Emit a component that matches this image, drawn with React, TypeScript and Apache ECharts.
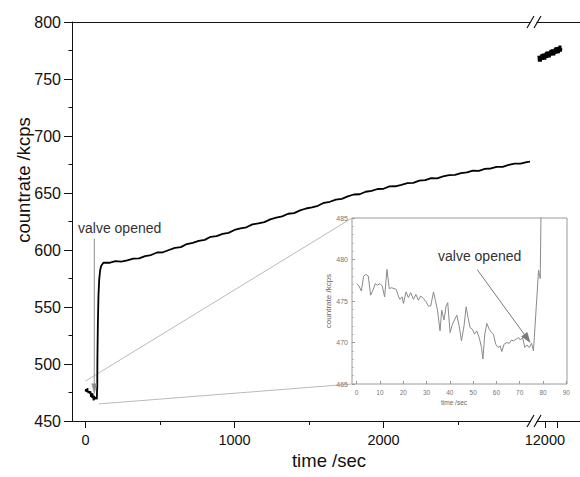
import React, { useEffect, useRef } from "react";
import * as echarts from "echarts";

// ---- data ----
// first seconds (also shown in the inset)
const earlyTime = [0, 1, 2, 3, 4, 5, 6, 7, 8, 9, 10, 11, 12, 13, 14, 15, 16, 17, 18, 18.6, 19.5, 20.1, 21.2, 22.2, 23.2, 24.4, 25.4, 26.5, 27.5, 28.7, 29.8, 30.8, 31.8, 33, 33.7, 34.7, 35.8, 36.5, 37.5, 38.4, 39.1, 40.1, 41.1, 42, 43, 44, 45, 46.1, 47, 47.9, 48.7, 49.7, 50.6, 51.6, 52.6, 53.6, 54.2, 55, 55.9, 56.9, 57.9, 58.7, 59.7, 60.7, 61.6, 62.3, 63.3, 64.5, 65.5, 66.5, 67.3, 68.5, 69.5, 70.2, 71.2, 72.2, 73.1, 74.1, 75.1, 75.9, 77.1, 78.1, 78.8];
const earlyRate = [477.1, 476.8, 476.2, 478.0, 478.2, 478.0, 475.7, 476.3, 477.1, 476.9, 477.1, 476.8, 475.5, 478.8, 476.5, 476.6, 476.5, 476.4, 475.5, 475.2, 475.5, 474.7, 476.1, 475.4, 476.0, 475.2, 475.8, 475.1, 475.6, 475.3, 474.9, 474.4, 474.4, 476.1, 475.2, 473.9, 471.4, 473.9, 472.7, 474.4, 474.8, 471.2, 472.2, 472.7, 473.3, 472.0, 470.2, 472.0, 474.3, 472.9, 471.8, 471.6, 471.0, 471.4, 470.6, 469.4, 468.0, 471.0, 472.3, 471.6, 471.2, 471.0, 469.8, 469.4, 469.6, 468.9, 469.8, 470.0, 469.9, 470.3, 470.2, 470.4, 470.6, 470.3, 470.6, 469.4, 469.7, 469.4, 469.9, 469.0, 474.3, 478.7, 477.7];

// valve opened: steep rise
const riseTime = [80, 83, 87, 92, 98, 105];
const riseRate = [505, 535, 560, 574, 582, 586];

// slow increase afterwards
const plateauTime = [120, 160, 200, 240, 280, 320, 360, 400, 440, 480, 520, 560, 600, 640, 680, 720, 760, 800, 840, 880, 920, 960, 1000, 1040, 1080, 1120, 1160, 1200, 1240, 1280, 1320, 1360, 1400, 1440, 1480, 1520, 1560, 1600, 1640, 1680, 1720, 1760, 1800, 1840, 1880, 1920, 1960, 2000, 2040, 2080, 2120, 2160, 2200, 2240, 2280, 2320, 2360, 2400, 2440, 2480, 2520, 2560, 2600, 2640, 2680, 2720, 2760, 2800, 2840, 2880, 2920, 2960, 2983];
const plateauRate = [588.9, 588.8, 590.3, 589.8, 591.0, 592.4, 592.6, 594.7, 595.6, 597.8, 598.0, 600.0, 601.9, 602.5, 605.2, 606.2, 608.0, 608.9, 611.6, 612.2, 614.2, 615.0, 617.6, 619.0, 619.9, 622.5, 623.3, 624.5, 626.9, 628.3, 629.5, 631.8, 632.3, 634.7, 636.4, 637.4, 638.8, 641.4, 642.3, 644.2, 644.8, 647.0, 648.7, 648.9, 651.1, 651.9, 653.5, 653.7, 655.8, 655.9, 657.2, 658.6, 658.9, 660.8, 661.3, 663.0, 662.9, 664.5, 665.6, 665.9, 667.4, 668.0, 669.6, 669.4, 671.1, 671.5, 673.0, 672.9, 674.6, 675.7, 675.8, 677.1, 677.5];

// after the axis break (~12000 s)
const lateTime = [11760, 11780, 11800, 11820, 11840, 11860, 11880, 11900, 11920, 11940, 11960, 11980, 12000, 12020, 12040, 12060, 12080, 12100, 12120, 12140, 12160, 12180, 12200, 12220, 12240, 12260, 12280, 12300, 12320, 12340, 12360, 12380, 12400, 12420, 12440, 12460, 12480, 12500, 12520, 12540, 12560, 12580, 12600, 12620, 12640];
const lateRate = [770.4, 765.3, 769.2, 765.2, 770.6, 767.6, 771.8, 766.8, 769.7, 772.2, 767.1, 771.1, 767.1, 772.5, 769.5, 773.7, 768.7, 771.6, 774.1, 769.0, 772.9, 768.9, 774.3, 771.3, 775.5, 770.5, 773.4, 775.9, 770.8, 774.7, 770.7, 776.2, 773.2, 777.4, 772.4, 775.3, 777.8, 772.7, 776.6, 772.6, 778.0, 775.0, 779.2, 774.2, 777.1];

// ticks / labels
const mainXLabels = [0, 1000, 2000];
const mainXMinor = [500, 1500, 2500];
const lateXLabels = [12000];
const lateXTicks = [12000, 12500];
const insetXLabels = [0, 10, 20, 30, 40, 50, 60, 70, 80, 90];

// annotations (data coordinates)
const mainArrow = [[59, 610], [59, 474]];
const insetArrow = [[51.7, 478.8], [74.5, 470.0]];

const FONT = "'Liberation Sans', Arial, Helvetica, sans-serif";
const AX = "#111";
const plain = (v: number) => String(v);

export default function App() {
  const ref = useRef<HTMLDivElement>(null);

  useEffect(() => {
    const chart = echarts.init(ref.current!, null, { renderer: "svg" });
    const zip = (a: number[], b: number[]) => a.map((t, i) => [t, b[i]]);
    const leftData = [...zip(earlyTime, earlyRate), ...zip(riseTime, riseRate), ...zip(plateauTime, plateauRate)];
    const insetData = [...zip(earlyTime, earlyRate), ...zip(riseTime.slice(0, 2), riseRate.slice(0, 2))];
    const lateData = zip(lateTime, lateRate);

    const mainMin = -90.6;
    const mainMax = 2983;
    const lateMin = 11685;
    const lateMax = 13402;

    const option: any = {
      animation: false,
      grid: [
        { left: 72, top: 22, width: 458, height: 399 },
        { left: 537, top: 22, width: 80, height: 399 },
        { left: 352, top: 218, width: 215, height: 166, show: true, borderColor: "#9a9a9a", borderWidth: 1, backgroundColor: "#fff" },
      ],
      xAxis: [
        {
          gridIndex: 0, type: "value", position: "bottom", min: mainMin, max: mainMax,
          axisLine: { show: true, onZero: false, lineStyle: { color: AX, width: 1 } },
          axisTick: { show: true, length: 7, customValues: mainXLabels, lineStyle: { color: AX } },
          axisLabel: { customValues: mainXLabels, formatter: plain, fontSize: 14.5, color: "#111", fontFamily: FONT, margin: 11 },
          splitLine: { show: false },
        },
        {
          gridIndex: 0, type: "value", position: "bottom", min: mainMin, max: mainMax,
          axisLine: { show: false },
          axisTick: { show: true, length: 4, customValues: mainXMinor, lineStyle: { color: AX } },
          axisLabel: { show: false },
          splitLine: { show: false },
        },
        {
          gridIndex: 0, type: "value", position: "top", min: mainMin, max: mainMax,
          axisLine: { show: true, onZero: false, lineStyle: { color: AX, width: 1 } },
          axisTick: { show: false }, axisLabel: { show: false }, splitLine: { show: false },
        },
        {
          gridIndex: 1, type: "value", position: "bottom", min: lateMin, max: lateMax,
          axisLine: { show: true, onZero: false, lineStyle: { color: AX, width: 1 } },
          axisTick: { show: true, length: 7, customValues: lateXTicks, lineStyle: { color: AX } },
          axisLabel: { customValues: lateXLabels, formatter: plain, fontSize: 14.5, color: "#111", fontFamily: FONT, margin: 11 },
          splitLine: { show: false },
        },
        {
          gridIndex: 1, type: "value", position: "top", min: lateMin, max: lateMax,
          axisLine: { show: true, onZero: false, lineStyle: { color: AX, width: 1 } },
          axisTick: { show: false }, axisLabel: { show: false }, splitLine: { show: false },
        },
        {
          gridIndex: 2, type: "value", position: "bottom", min: -2, max: 90.3,
          axisLine: { show: false, onZero: false },
          axisTick: { show: true, inside: true, length: 3, customValues: insetXLabels, lineStyle: { color: "#999" } },
          axisLabel: { customValues: insetXLabels, formatter: plain, fontSize: 6.5, color: "#777", fontFamily: FONT, margin: 5 },
          splitLine: { show: false },
        },
      ],
      yAxis: [
        {
          gridIndex: 0, type: "value", min: 450, max: 800, interval: 50,
          axisLine: { show: true, onZero: false, lineStyle: { color: AX, width: 1 } },
          axisTick: { show: true, length: 8, lineStyle: { color: AX } },
          minorTick: { show: true, splitNumber: 2, length: 3.5, lineStyle: { color: AX } },
          axisLabel: { fontSize: 16, color: "#111", fontFamily: FONT, margin: 11 },
          splitLine: { show: false }, minorSplitLine: { show: false },
        },
        { gridIndex: 1, type: "value", min: 450, max: 800, show: false, splitLine: { show: false } },
        {
          gridIndex: 2, type: "value", min: 465, max: 485, interval: 5,
          axisLine: { show: false, onZero: false },
          axisTick: { show: true, inside: true, length: 3, lineStyle: { color: "#999" } },
          minorTick: { show: true, splitNumber: 5, length: 1.5, lineStyle: { color: "#aaa" } },
          axisLabel: { fontSize: 7, color: "#777777", fontFamily: FONT, margin: 4 },
          splitLine: { show: false }, minorSplitLine: { show: false },
          name: "countrate /kcps", nameLocation: "middle", nameGap: 20,
          nameTextStyle: { fontSize: 8, color: "#666666", fontFamily: FONT },
        },
      ],
      series: [
        {
          type: "line", xAxisIndex: 0, yAxisIndex: 0, data: leftData, showSymbol: false,
          lineStyle: { color: "#000", width: 1.8 }, silent: true,
        },
        {
          type: "line", xAxisIndex: 3, yAxisIndex: 1, data: lateData, showSymbol: false,
          lineStyle: { color: "#000", width: 3 }, silent: true,
        },
        {
          type: "line", xAxisIndex: 5, yAxisIndex: 2, data: insetData, showSymbol: false,
          lineStyle: { color: "#8a8a8a", width: 1 }, silent: true, clip: true,
        },
      ],
    };
    chart.setOption(option);

    const px = (s: number, v: number[]) => chart.convertToPixel({ seriesIndex: s }, v) as number[];
    const a = px(0, [0, 485]);
    const b = px(2, [-2, 485]);
    const c = px(0, [90, 465]);
    const d = px(2, [-2, 465]);

    const arrow = (p: number[], q: number[], len: number, half: number, color: string) => {
      const dx = q[0] - p[0];
      const dy = q[1] - p[1];
      const L = Math.sqrt(dx * dx + dy * dy);
      const ux = dx / L;
      const uy = dy / L;
      const bx = q[0] - ux * len;
      const by = q[1] - uy * len;
      return [
        { type: "line", z: 90, shape: { x1: p[0], y1: p[1], x2: bx, y2: by }, style: { stroke: color, lineWidth: 1 } },
        {
          type: "polygon", z: 90,
          shape: { points: [[q[0], q[1]], [bx - uy * half, by + ux * half], [bx + uy * half, by - ux * half]] },
          style: { fill: color, stroke: color, lineWidth: 0.5 },
        },
      ];
    };

    const slash = (x1: number, y1: number, x2: number, y2: number) => ({
      type: "line", shape: { x1, y1, x2, y2 }, style: { stroke: "#111", lineWidth: 1.2 }, z: 100,
    });
    const txt = (x: number, y: number, text: string, size: number, color: string, align = "left") => ({
      type: "text", x, y, z: 100,
      style: { text, fontSize: size, fontFamily: FONT, fill: color, align, verticalAlign: "middle" },
    });

    chart.setOption({
      graphic: [
        { type: "line", shape: { x1: a[0], y1: a[1], x2: b[0], y2: b[1] }, style: { stroke: "#a8a8a8", lineWidth: 0.8 } },
        { type: "line", shape: { x1: c[0], y1: c[1], x2: d[0], y2: d[1] }, style: { stroke: "#a8a8a8", lineWidth: 0.8 } },
        ...arrow(px(0, mainArrow[0]), px(0, mainArrow[1]), 10, 2.5, "#8c8c8c"),
        ...arrow(px(2, insetArrow[0]), px(2, insetArrow[1]), 10, 3.5, "#7a7a7a"),
        slash(527, 28, 534, 16),
        slash(534, 28, 541, 16),
        slash(527, 427, 534, 415),
        slash(534, 427, 541, 415),
        {
          type: "text", x: 23, y: 180, rotation: Math.PI / 2, z: 100,
          style: { text: "countrate /kcps", fontSize: 18.5, fontFamily: FONT, fill: "#111", align: "center", verticalAlign: "middle" },
        },
        txt(329, 460, "time /sec", 18.5, "#111", "center"),
        txt(78, 228, "valve opened", 14, "#333"),
        txt(438, 256, "valve opened", 14, "#333"),
        txt(454, 402, "time /sec", 6.5, "#666", "center"),
      ],
    });

    return () => chart.dispose();
  }, []);

  return (
    <div
      ref={ref}
      style={{ position: "fixed", left: 0, top: 0, width: 580, height: 477, background: "#fff" }}
    />
  );
}
